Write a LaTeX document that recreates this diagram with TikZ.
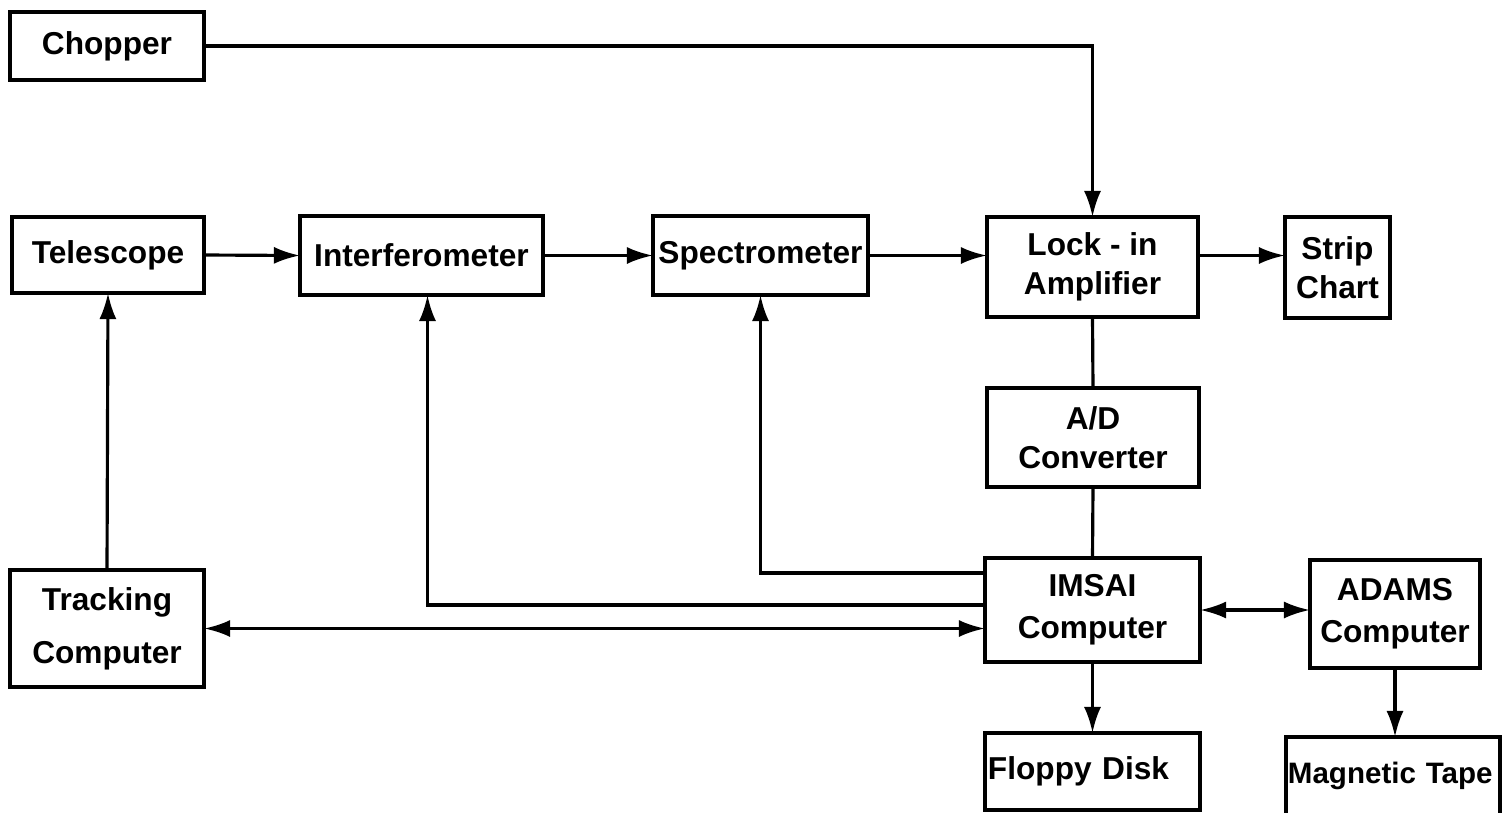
\documentclass[tikz,border=0pt]{standalone}
\usepackage{fontspec}
\setmainfont{Liberation Sans}
\usepackage{tikz}
\usetikzlibrary{arrows.meta}

\begin{document}
\begin{tikzpicture}[x=0.01cm, y=-0.01cm,
	blk/.style={draw, line width=1.1pt, inner sep=0pt, outer sep=0pt, align=center,
		font=\fontsize{9}{11}\selectfont\bfseries},
	conn/.style={line width=0.9pt, -{Latex[length=0.26cm, width=0.17cm]}},
	both/.style={line width=0.9pt, {Latex[length=0.26cm, width=0.17cm]}-{Latex[length=0.26cm, width=0.17cm]}},
	wire/.style={line width=0.9pt}]
	\useasboundingbox (0,0) rectangle (1503,812);

	% Top row
	\node[blk, minimum width=1.94cm, minimum height=0.68cm] (chop) at (107,46) {Chopper};
	\node[blk, minimum width=1.92cm, minimum height=0.76cm] (tele) at (108,255) {Telescope};
	\node[blk, minimum width=2.43cm, minimum height=0.79cm] (intf) at (421.5,255.5) {Interferometer};
	\node[blk, minimum width=2.15cm, minimum height=0.79cm] (spec) at (760.5,255.5) {Spectrometer};
	\node[blk, minimum width=2.11cm, minimum height=1.00cm] (lock) at (1092.5,267) {Lock - in\\Amplifier};
	\node[blk, minimum width=1.05cm, minimum height=1.01cm] (strip) at (1337.5,267.5) {Strip\\Chart};

	% Converter and computers
	\node[blk, minimum width=2.12cm, minimum height=0.99cm] (adc) at (1093,437.5) {A/D\\Converter};
	\node[blk, minimum width=2.15cm, minimum height=1.04cm] (imsai) at (1092.5,610) {IMSAI\\[1pt]Computer};
	\node[blk, minimum width=1.70cm, minimum height=1.08cm] (adams) at (1395,614) {ADAMS\\[1pt]Computer};
	\node[blk, minimum width=1.94cm, minimum height=1.17cm] (track) at (107,628.5) {Tracking\\[4pt]Computer};

	% Storage
	\node[blk, minimum width=2.15cm, minimum height=0.77cm, text width=2.09cm, align=left] (floppy) at (1092.5,771.5) {Floppy Disk};
	\node[blk, minimum width=2.14cm, minimum height=0.78cm, text width=2.10cm, align=left,
		font=\fontsize{8.4}{10}\selectfont\bfseries] (tape) at (1393,776) {Magnetic Tape};

	% Signal path
	\draw[conn] (chop.east) -| (lock.north);
	\draw[conn] (tele.east) -- (intf.west);
	\draw[conn] (intf.east) -- (spec.west);
	\draw[conn] (spec.east) -- (spec.east -| lock.west);
	\draw[conn] (spec.east -| lock.east) -- (spec.east -| strip.west);
	\draw[wire] (lock.south) -- (adc.north);
	\draw[wire] (adc.south) -- (imsai.north);

	% Control lines
	\draw[conn] (track.north) -- (tele.south);
	\draw[conn] ([yshift=-0.15cm]imsai.north west) -| (spec.south);
	\draw[conn] ([yshift=-0.47cm]imsai.north west) -| ([xshift=0.06cm]intf.south);
	\draw[both] (track.east) -- (track.east -| imsai.west);
	\draw[both] (imsai.east) -- (imsai.east -| adams.west);

	% Storage lines
	\draw[conn] (imsai.south) -- (floppy.north);
	\draw[conn] (adams.south) -- (adams.south |- tape.north);
\end{tikzpicture}
\end{document}
